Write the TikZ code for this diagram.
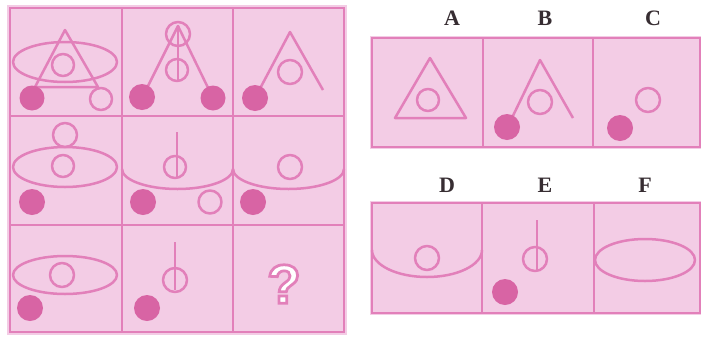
\documentclass[tikz,border=0pt]{standalone}
\usepackage{fontspec}
\usetikzlibrary{calc}
\setmainfont{Liberation Serif}
\newfontfamily\qfont[FakeBold=5]{Liberation Sans Bold}
\definecolor{cellfill}{RGB}{243,204,229}
\definecolor{linec}{RGB}{226,128,186}
\definecolor{dotc}{RGB}{216,100,164}
\definecolor{labc}{RGB}{55,45,50}
\begin{document}
\begin{tikzpicture}[x=1pt,y=-1pt,
  fig/.style={draw=linec,line width=2.5pt,line join=round},
  dotf/.style={fill=dotc},
  framebox/.style={draw=linec,line width=2.9pt},
  lab/.style={text=labc,font=\bfseries\fontsize{22}{22}\selectfont,inner sep=0pt},
  qmark/.style={font=\qfont\fontsize{55}{55}\selectfont,inner sep=0pt}]
\useasboundingbox (0,0) rectangle (701,338);
\fill[white] (0,0) rectangle (701,338);
% ---------- main grid ----------
\fill[cellfill] (7,5) rectangle (347,335);
\draw[framebox] (10,8) rectangle (344,332);
\draw[framebox] (122,8) -- (122,332) (233,8) -- (233,332);
\draw[framebox] (10,116) -- (344,116) (10,225) -- (344,225);
% cell 1,1
\draw[fig] (65,62) ellipse[x radius=52,y radius=20];
\draw[fig] (65,30) -- (35,87) -- (98,87) -- cycle;
\draw[fig] (63,65) circle[radius=11];
\fill[dotf] (32,98) circle[radius=12.5];
\draw[fig] (101,99) circle[radius=11];
% cell 1,2
\draw[fig] (178,34) circle[radius=12];
\draw[fig] (143,96) -- (178,26) -- (212,96);
\draw[fig] (178,26) -- (178,81);
\draw[fig] (177,70) circle[radius=11];
\fill[dotf] (142,97) circle[radius=13];
\fill[dotf] (213,98) circle[radius=12.5];
% cell 1,3
\draw[fig] (255,98) -- (290,32) -- (323,90);
\draw[fig] (290,72) circle[radius=12];
\fill[dotf] (255,98) circle[radius=13];
% cell 2,1
\draw[fig] (65,135) circle[radius=12];
\draw[fig] (65,167) ellipse[x radius=52,y radius=20];
\draw[fig] (63,166) circle[radius=11];
\fill[dotf] (32,202) circle[radius=13];
% cell 2,2
\draw[fig] (122,169) arc[start angle=180,end angle=0,x radius=55.5,y radius=20];
\draw[fig] (177,132) -- (177,178);
\draw[fig] (175,167) circle[radius=11];
\fill[dotf] (143,202) circle[radius=13];
\draw[fig] (210,202) circle[radius=11.5];
% cell 2,3
\draw[fig] (233,169) arc[start angle=180,end angle=0,x radius=55.5,y radius=20];
\draw[fig] (290,167) circle[radius=12];
\fill[dotf] (253,202) circle[radius=13];
% cell 3,1
\draw[fig] (65,275) ellipse[x radius=52,y radius=19];
\draw[fig] (62,275) circle[radius=12];
\fill[dotf] (30,308) circle[radius=13];
% cell 3,2
\draw[fig] (175,242) -- (175,290);
\draw[fig] (175,280) circle[radius=12];
\fill[dotf] (147,308) circle[radius=13];
% cell 3,3 question mark: white fill, pink outline
\node[qmark,text=white] (q) at (284,284)
  {\special{pdf:literal direct 0.886 0.502 0.729 RG}?};
% ---------- options top ----------
\fill[cellfill] (370,36) rectangle (701,149);
\draw[framebox] (372,38) rectangle (700,147);
\draw[framebox] (483,38) -- (483,147) (593,38) -- (593,147);
\node[lab] (la) at (452,18) {A};
\node[lab] (lb) at (545,18) {B};
\node[lab] (lc) at (653,18) {C};
% A
\draw[fig] (430,58) -- (395,118) -- (466,118) -- cycle;
\draw[fig] (428,100) circle[radius=11];
% B
\draw[fig] (509,124) -- (540,60) -- (573,118);
\draw[fig] (540,102) circle[radius=12];
\fill[dotf] (507,127) circle[radius=13];
% C
\draw[fig] (648,100) circle[radius=12];
\fill[dotf] (620,128) circle[radius=13];
% ---------- options bottom ----------
\fill[cellfill] (370,201) rectangle (701,315);
\draw[framebox] (372,203) rectangle (700,313);
\draw[framebox] (482,203) -- (482,313) (594,203) -- (594,313);
\node[lab] (ld) at (447,185) {D};
\node[lab] (le) at (545,185) {E};
\node[lab] (lf) at (645,185) {F};
% D
\draw[fig] (372,250) arc[start angle=180,end angle=0,x radius=55,y radius=27];
\draw[fig] (427,258) circle[radius=12];
% E
\draw[fig] (537,220) -- (537,271);
\draw[fig] (535,259) circle[radius=12];
\fill[dotf] (505,292) circle[radius=13];
% F
\draw[fig] (645,260) ellipse[x radius=50,y radius=21];
\end{tikzpicture}
\end{document}
